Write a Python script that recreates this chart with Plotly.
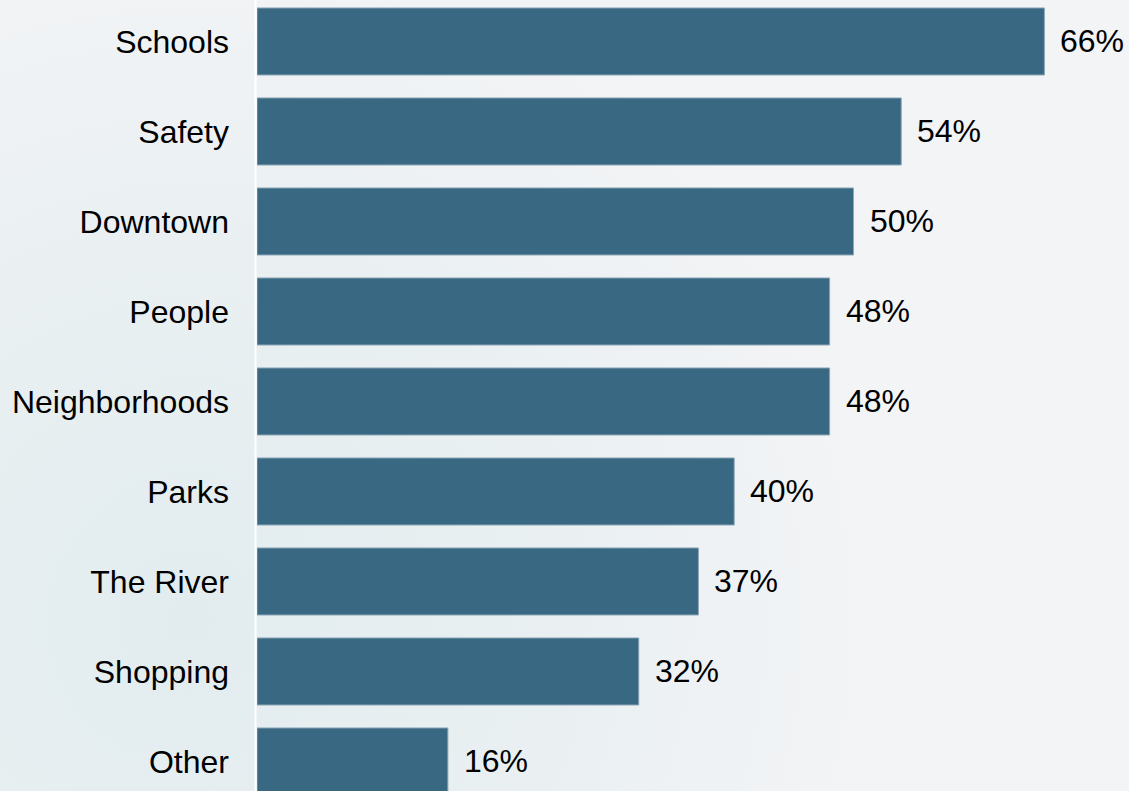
import base64
import plotly.graph_objects as go

# Share of respondents naming each item
categories = ["Schools", "Safety", "Downtown", "People", "Neighborhoods",
              "Parks", "The River", "Shopping", "Other"]
values = [66, 54, 50, 48, 48, 40, 37, 32, 16]
value_labels = [f"{v}%" for v in values]

W, H = 1129, 791
LEFT = 257
PX_PER_UNIT = 11.93
x_max = (W - LEFT) / PX_PER_UNIT
FONT = "Liberation Sans, Arial, sans-serif"

# soft radial backdrop
svg = f"""<svg xmlns='http://www.w3.org/2000/svg' width='{W}' height='{H}'>
<defs><radialGradient id='g' gradientUnits='userSpaceOnUse' cx='190' cy='620' r='700'>
<stop offset='0' stop-color='#e2ecef'/>
<stop offset='0.55' stop-color='#eaf0f2'/>
<stop offset='1' stop-color='#f3f4f6'/>
</radialGradient></defs>
<rect width='{W}' height='{H}' fill='#f3f4f6'/>
<rect width='{W}' height='{H}' fill='url(#g)'/>
</svg>"""
bg_uri = "data:image/svg+xml;base64," + base64.b64encode(svg.encode()).decode()

fig = go.Figure(go.Bar(
    x=values,
    y=categories,
    orientation="h",
    width=0.745,
    marker=dict(color="#386882", line=dict(color="#8ea7b6", width=1)),
    hoverinfo="skip",
))

annotations = [
    dict(x=v, y=c, text=t, xref="x", yref="y", xanchor="left", yanchor="middle",
         xshift=14, showarrow=False,
         font=dict(family=FONT, size=32, color="#000000"))
    for c, v, t in zip(categories, values, value_labels)
]

fig.update_layout(
    width=W, height=H,
    margin=dict(l=LEFT, r=0, t=0, b=0),
    paper_bgcolor="rgba(0,0,0,0)",
    plot_bgcolor="rgba(0,0,0,0)",
    showlegend=False,
    annotations=annotations,
    images=[dict(source=bg_uri, xref="paper", yref="paper",
                 x=-LEFT / (W - LEFT), y=1, sizex=W / (W - LEFT), sizey=1,
                 xanchor="left", yanchor="top", sizing="stretch", layer="below")],
    shapes=[dict(type="line", xref="paper", yref="paper",
                 x0=-1.5 / (W - LEFT), x1=-1.5 / (W - LEFT), y0=0, y1=1,
                 line=dict(color="#ffffff", width=2))],
    xaxis=dict(range=[0, x_max], showgrid=False, zeroline=False,
               showticklabels=False, showline=False),
    yaxis=dict(categoryorder="array", categoryarray=categories,
               range=[8.328, -0.461], showgrid=False, zeroline=False,
               showline=False, ticks="", ticklabelstandoff=27,
               tickfont=dict(family=FONT, size=32, color="#000000")),
    font=dict(family=FONT),
)

fig.write_html("out.html")
